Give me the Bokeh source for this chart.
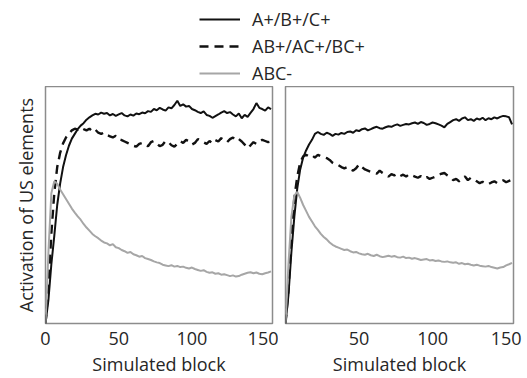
from bokeh.plotting import figure
from bokeh.layouts import column, row
from bokeh.models import Legend, LegendItem, FixedTicker
from bokeh.embed import file_html
from bokeh.resources import INLINE

# ---------------- data ----------------
blocks = list(range(0, 156, 2))

left_single = [0.0, 0.10, 0.25, 0.37, 0.50, 0.59, 0.66, 0.71, 0.75, 0.78,
               0.80, 0.82, 0.835, 0.845, 0.86, 0.87, 0.878, 0.885, 0.882, 0.89,
               0.885, 0.888, 0.878, 0.884, 0.876, 0.882, 0.888, 0.878, 0.874, 0.882,
               0.877, 0.886, 0.883, 0.89, 0.887, 0.896, 0.893, 0.905, 0.9, 0.91,
               0.903, 0.898, 0.912, 0.908, 0.922, 0.94, 0.918, 0.925, 0.915, 0.918,
               0.905, 0.9, 0.893, 0.888, 0.895, 0.88, 0.876, 0.868, 0.875, 0.882,
               0.89, 0.896, 0.888, 0.892, 0.882, 0.874, 0.886, 0.866, 0.88, 0.872,
               0.889, 0.905, 0.93, 0.91, 0.905, 0.898, 0.912, 0.905]
left_double = [0.0, 0.15, 0.38, 0.55, 0.66, 0.72, 0.76, 0.785, 0.80, 0.815,
               0.822, 0.818, 0.826, 0.82, 0.815, 0.822, 0.81, 0.818, 0.805, 0.80,
               0.806, 0.795, 0.79, 0.785, 0.792, 0.778, 0.774, 0.768, 0.762, 0.756,
               0.75, 0.746, 0.758, 0.762, 0.752, 0.748, 0.765, 0.77, 0.76, 0.748,
               0.754, 0.77, 0.765, 0.752, 0.746, 0.758, 0.77, 0.762, 0.775, 0.768,
               0.755, 0.762, 0.778, 0.772, 0.764, 0.758, 0.77, 0.76, 0.774, 0.768,
               0.782, 0.774, 0.765, 0.778, 0.785, 0.772, 0.778, 0.768, 0.755, 0.74,
               0.752, 0.765, 0.758, 0.768, 0.775, 0.77, 0.765, 0.768]
left_triple = [0.0, 0.30, 0.55, 0.60, 0.59, 0.565, 0.545, 0.525, 0.505, 0.485,
               0.468, 0.452, 0.438, 0.42, 0.405, 0.392, 0.378, 0.368, 0.36, 0.35,
               0.342, 0.338, 0.33, 0.335, 0.322, 0.318, 0.31, 0.305, 0.298, 0.302,
               0.292, 0.288, 0.282, 0.285, 0.276, 0.272, 0.268, 0.262, 0.258, 0.255,
               0.248, 0.245, 0.242, 0.246, 0.24, 0.243, 0.238, 0.24, 0.235, 0.232,
               0.236, 0.23, 0.226, 0.222, 0.225, 0.218, 0.214, 0.216, 0.21, 0.212,
               0.206, 0.208, 0.204, 0.2, 0.203, 0.198, 0.2, 0.206, 0.21, 0.214,
               0.216, 0.212, 0.215, 0.21, 0.208, 0.212, 0.215, 0.22]

right_single = [0.0, 0.12, 0.30, 0.45, 0.57, 0.65, 0.70, 0.73, 0.755, 0.775,
                0.80, 0.808, 0.80, 0.796, 0.805, 0.80, 0.792, 0.80, 0.797, 0.804,
                0.80, 0.808, 0.81, 0.805, 0.815, 0.812, 0.82, 0.823, 0.815, 0.82,
                0.826, 0.83, 0.824, 0.822, 0.828, 0.832, 0.83, 0.836, 0.84, 0.834,
                0.838, 0.842, 0.84, 0.845, 0.848, 0.842, 0.85, 0.846, 0.838, 0.842,
                0.848, 0.845, 0.84, 0.835, 0.828, 0.842, 0.85, 0.858, 0.862, 0.855,
                0.865, 0.87, 0.858, 0.862, 0.855, 0.865, 0.86, 0.868, 0.858, 0.866,
                0.862, 0.87, 0.865, 0.872, 0.876, 0.874, 0.87, 0.84]
right_double = [0.0, 0.14, 0.36, 0.53, 0.62, 0.68, 0.705, 0.712, 0.705, 0.71,
                0.70, 0.712, 0.706, 0.702, 0.698, 0.69, 0.678, 0.67, 0.668, 0.66,
                0.655, 0.66, 0.65, 0.645, 0.655, 0.672, 0.66, 0.65, 0.645, 0.64,
                0.636, 0.632, 0.645, 0.635, 0.628, 0.62, 0.63, 0.625, 0.632, 0.622,
                0.628, 0.62, 0.63, 0.625, 0.62, 0.615, 0.622, 0.612, 0.618, 0.61,
                0.615, 0.62, 0.628, 0.632, 0.635, 0.625, 0.618, 0.605, 0.61, 0.6,
                0.612, 0.62, 0.605, 0.615, 0.608, 0.6, 0.592, 0.598, 0.59, 0.588,
                0.595, 0.6, 0.592, 0.598, 0.604, 0.596, 0.602, 0.607]
right_triple = [0.0, 0.25, 0.45, 0.54, 0.555, 0.53, 0.50, 0.475, 0.45, 0.43,
                0.41, 0.395, 0.378, 0.365, 0.355, 0.342, 0.332, 0.325, 0.32, 0.315,
                0.31, 0.312, 0.305, 0.3, 0.302, 0.296, 0.292, 0.29, 0.294, 0.288,
                0.285, 0.29, 0.284, 0.28, 0.283, 0.286, 0.282, 0.285, 0.28, 0.278,
                0.282, 0.276, 0.278, 0.273, 0.276, 0.272, 0.268, 0.27, 0.272, 0.266,
                0.268, 0.264, 0.266, 0.262, 0.26, 0.262, 0.258, 0.256, 0.258, 0.252,
                0.255, 0.25, 0.252, 0.248, 0.245, 0.248, 0.244, 0.242, 0.24, 0.243,
                0.238, 0.235, 0.232, 0.236, 0.238, 0.245, 0.25, 0.256]

series_labels = ["A+/B+/C+", "AB+/AC+/BC+", "ABC-"]
left_ticks = [0, 50, 100, 150]
right_ticks = [50, 100, 150]

# ---------------- styles ----------------
FONT = "Open Sans"
TXT = "#262626"
BOX = "#8c8c8c"
styles = [dict(line_color="#111111", line_width=2.0, line_dash="solid"),
          dict(line_color="#111111", line_width=2.4, line_dash="9 6"),
          dict(line_color="#a6a6a6", line_width=2.0, line_dash="solid")]


def panel(fw, bl, br, ticks, ylab, series):
    p = figure(frame_width=fw, frame_height=237, x_range=(0, 155), y_range=(0, 1),
               output_backend="svg", toolbar_location=None,
               min_border_left=bl, min_border_right=br, min_border_top=0,
               min_border_bottom=55,
               y_axis_location="left" if ylab else None)
    p.xgrid.visible = False
    p.ygrid.visible = False
    p.outline_line_color = BOX
    p.outline_line_width = 1.5
    p.background_fill_color = "white"
    p.border_fill_color = "white"
    xa = p.xaxis[0]
    xa.ticker = FixedTicker(ticks=ticks)
    xa.axis_line_color = None
    xa.major_tick_line_color = None
    xa.minor_tick_line_color = None
    xa.major_tick_out = 0
    xa.major_tick_in = 0
    xa.major_label_standoff = 8
    xa.major_label_text_font = FONT
    xa.major_label_text_font_size = "18px"
    xa.major_label_text_color = TXT
    xa.axis_label = "Simulated block"
    xa.axis_label_text_font = FONT
    xa.axis_label_text_font_size = "18px"
    xa.axis_label_text_font_style = "normal"
    xa.axis_label_text_color = TXT
    xa.axis_label_standoff = 4
    if ylab:
        ya = p.yaxis[0]
        ya.ticker = FixedTicker(ticks=[])
        ya.axis_line_color = None
        ya.major_tick_line_color = None
        ya.minor_tick_line_color = None
        ya.major_tick_out = 0
        ya.major_tick_in = 0
        ya.major_label_standoff = 0
        ya.axis_label = ylab
        ya.axis_label_text_font = FONT
        ya.axis_label_text_font_size = "18px"
        ya.axis_label_text_font_style = "normal"
        ya.axis_label_text_color = TXT
        ya.axis_label_standoff = 8
    for ys, st in zip(series, styles):
        p.line(blocks, ys, **st)
    return p


p_left = panel(227, 45, 6, left_ticks, "Activation of US elements",
               [left_single, left_double, left_triple])
p_right = panel(228, 7, 14, right_ticks, None,
                [right_single, right_double, right_triple])

# legend strip on top
leg = figure(width=527, height=86, x_range=(0, 1), y_range=(0, 1),
             output_backend="svg", toolbar_location=None,
             x_axis_location=None, y_axis_location=None,
             min_border=0, outline_line_color=None)
leg.xgrid.visible = False
leg.ygrid.visible = False
items = []
for lab, st in zip(series_labels, styles):
    r = leg.line([-5, -4], [-5, -5], **st)
    items.append(LegendItem(label=lab, renderers=[r]))
legend = Legend(items=items, location=(199, 1), orientation="vertical",
                glyph_width=41, glyph_height=20, label_height=20,
                label_standoff=12, spacing=3, padding=0, margin=0,
                border_line_color=None, background_fill_alpha=0,
                label_text_font=FONT, label_text_font_size="18px",
                label_text_color=TXT)
leg.add_layout(legend, "center")

layout = column(leg, row(p_left, p_right, spacing=0), spacing=0)
open("out.html", "w").write(file_html(layout, INLINE))
